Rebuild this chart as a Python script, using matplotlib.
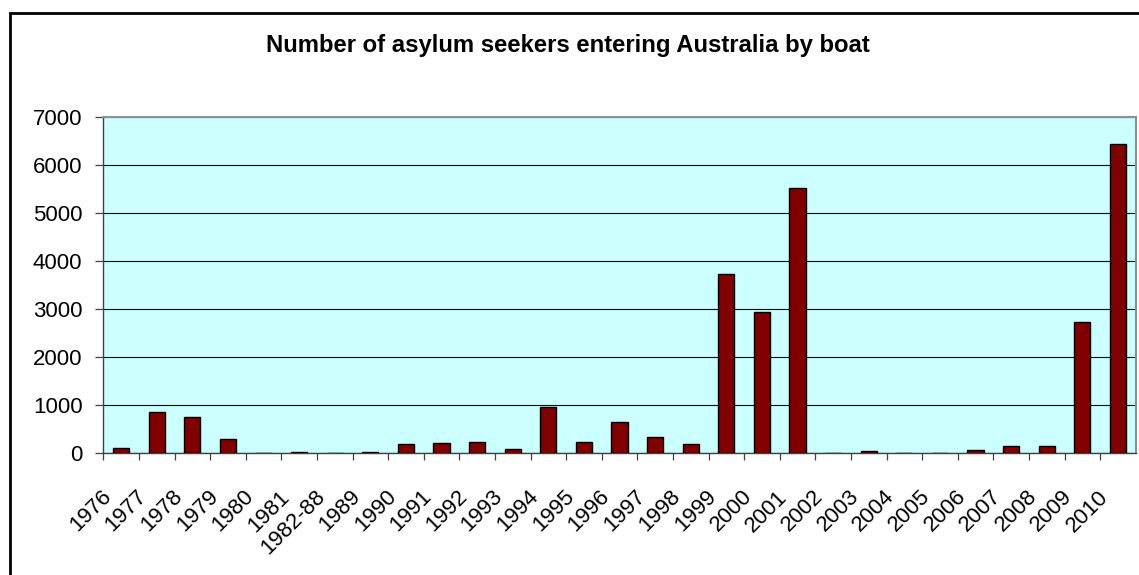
import numpy as np
import matplotlib
matplotlib.use("Agg")
import matplotlib.pyplot as plt
import matplotlib.transforms as mtransforms
from matplotlib.patches import Rectangle

# categories and values
years = ['1976', '1977', '1978', '1979', '1980', '1981', '1982-88', '1989',
         '1990', '1991', '1992', '1993', '1994', '1995', '1996', '1997',
         '1998', '1999', '2000', '2001', '2002', '2003', '2004', '2005',
         '2006', '2007', '2008', '2009', '2010']
arrivals = [111, 868, 746, 304, 0, 30, 0, 26,
            198, 214, 230, 81, 953, 237, 660, 339,
            200, 3721, 2939, 5516, 0, 40, 0, 0,
            60, 148, 161, 2726, 6430]
yticks = [0, 1000, 2000, 3000, 4000, 5000, 6000, 7000]

plt.rcParams['font.family'] = ['Liberation Sans', 'DejaVu Sans']

W, H = 1139, 575
fig = plt.figure(figsize=(W / 100, H / 100), dpi=100)
ax = fig.add_axes([103.3 / W, 1 - 453.3 / H, (1135.7 - 103.3) / W, (453.3 - 116.7) / H])

x = np.arange(len(years))
ax.set_facecolor('#CCFFFF')
ax.bar(x + 0.5, arrivals, width=0.4545, color='#800000', edgecolor='black',
       linewidth=1.0, zorder=3)

ax.set_xlim(0, len(years))
ax.set_ylim(0, 7000)
ax.set_yticks(yticks)
ax.yaxis.grid(True, color='black', linewidth=0.8, zorder=1)
ax.set_axisbelow(True)

# ticks at category boundaries, labels at centres
ax.set_xticks(x, minor=False)
ax.set_xticklabels([])
ax.set_xticks(x + 0.5, minor=True)
ax.set_xticklabels(years, minor=True, rotation=45, ha='right', va='center',
                   rotation_mode='anchor', fontsize=16)
ax.tick_params(axis='x', which='minor', length=0, pad=29)
ax.tick_params(axis='x', which='major', length=5, width=0.9, color='#404040',
               direction='out')
ax.tick_params(axis='y', length=6, width=0.9, color='#404040', labelsize=16, pad=9)

offset = mtransforms.ScaledTranslation(-13 / 100, 0, fig.dpi_scale_trans)
for lbl in ax.xaxis.get_minorticklabels():
    lbl.set_transform(lbl.get_transform() + offset)

for side in ['top', 'right']:
    ax.spines[side].set_color('#909090')
    ax.spines[side].set_linewidth(1.5)
for side in ['left', 'bottom']:
    ax.spines[side].set_color('#404040')
    ax.spines[side].set_linewidth(1.0)

fig.text(567.5 / W, 1 - 52 / H, 'Number of asylum seekers entering Australia by boat',
         ha='center', va='baseline', fontsize=17.2, fontweight='bold')

# outer chart border (cropped on right and bottom)
fig.patches.append(Rectangle((9.5 / W, -0.1), 1.2, 1.1 - 13 / H, transform=fig.transFigure,
                             fill=False, edgecolor='black', linewidth=2.0))

fig.savefig('out.png', dpi=100)
